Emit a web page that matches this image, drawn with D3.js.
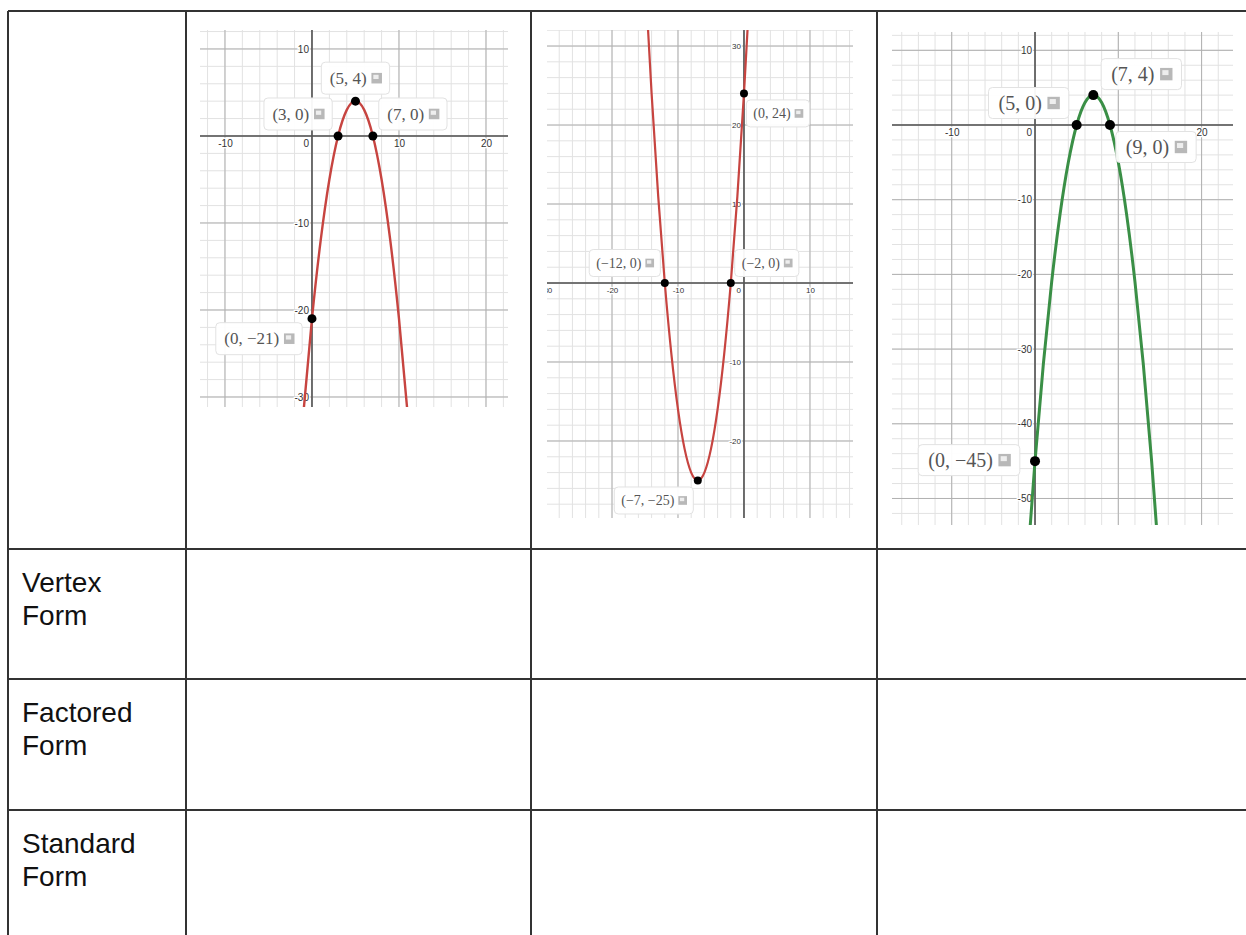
<!DOCTYPE html>
<html>
<head>
<meta charset="utf-8">
<script src="https://cdn.jsdelivr.net/npm/d3@7"></script>
<style>
  body { margin: 0; background: #fff; }
  svg { display: block; }
</style>
</head>
<body>
<div id="chart"></div>
<script>
// --------------------------------------------------
// data read off the worksheet

// table row headers (first row holds the graphs)
var rowLabels = [[], ["Vertex", "Form"], ["Factored", "Form"], ["Standard", "Form"]];

// graph 1 (red, opens down)
var curve1X = [-3, -2, -1, 0, 1, 2, 3, 4, 5, 6, 7, 8, 9, 10, 11, 12, 13];
var curve1Y = [-60, -45, -32, -21, -12, -5, 0, 3, 4, 3, 0, -5, -12, -21, -32, -45, -60];
var points1X = [5, 3, 7, 0];
var points1Y = [4, 0, 0, -21];
var labels1 = ["(5, 4)", "(3, 0)", "(7, 0)", "(0, \u221221)"];
var xTicks1 = [-10, 10, 20];
var yTicks1 = [10, -10, -20, -30];

// graph 2 (red, opens up)
var curve2X = [-16, -15, -14, -13, -12, -11, -10, -9, -8, -7, -6, -5, -4, -3, -2, -1, 0, 1, 2];
var curve2Y = [56, 39, 24, 11, 0, -9, -16, -21, -24, -25, -24, -21, -16, -9, 0, 11, 24, 39, 56];
var points2X = [0, -2, -12, -7];
var points2Y = [24, 0, 0, -25];
var labels2 = ["(0, 24)", "(\u22122, 0)", "(\u221212, 0)", "(\u22127, \u221225)"];
var xTicks2 = [-30, -20, -10, 10];
var yTicks2 = [30, 20, 10, -10, -20, -30];

// graph 3 (green, opens down)
var curve3X = [-2, -1, 0, 1, 2, 3, 4, 5, 6, 7, 8, 9, 10, 11, 12, 13, 14, 15, 16];
var curve3Y = [-77, -60, -45, -32, -21, -12, -5, 0, 3, 4, 3, 0, -5, -12, -21, -32, -45, -60, -77];
var points3X = [7, 5, 9, 0];
var points3Y = [4, 0, 0, -45];
var labels3 = ["(7, 4)", "(5, 0)", "(9, 0)", "(0, \u221245)"];
var xTicks3 = [-10, 20];
var yTicks3 = [10, -10, -20, -30, -40, -50];

// --------------------------------------------------
// layout

var W = 1246, H = 935;
var colX = [8, 186, 531, 877, 1250];
var rowY = [11, 549, 679, 810, 940];

var panels = [
    { left: 200, right: 508, top: 30, bottom: 407,
      xDomain: [-12.87, 22.53], yDomain: [-31.15, 12.18],
      color: "#c74440", width: 2.4, r: 4.5, tickSize: 10, labelSize: 17, boxH: 32,
      offsets: [[0, -23], [-40, -22], [40, -22], [-53, 20]],
      cx: curve1X, cy: curve1Y, px: points1X, py: points1Y, labels: labels1,
      xt: xTicks1, yt: yTicks1 },
    { left: 547, right: 853, top: 30, bottom: 518,
      xDomain: [-29.85, 16.52], yDomain: [-29.75, 32.03],
      color: "#c74440", width: 2.2, r: 4, tickSize: 8, labelSize: 14, boxH: 27,
      offsets: [[34, 20], [36, -20], [-40, -20], [-44, 20]],
      cx: curve2X, cy: curve2Y, px: points2X, py: points2Y, labels: labels2,
      xt: xTicks2, yt: yTicks2 },
    { left: 892, right: 1233, top: 32, bottom: 525,
      xDomain: [-17.17, 23.77], yDomain: [-53.55, 12.45],
      color: "#3a8f46", width: 3, r: 5, tickSize: 10, labelSize: 20, boxH: 31,
      offsets: [[48, -21], [-48, -22], [46, 22], [-66, -1]],
      cx: curve3X, cy: curve3Y, px: points3X, py: points3Y, labels: labels3,
      xt: xTicks3, yt: yTicks3 }
];

var svg = d3.select("#chart")
    .append("svg")
    .attr("width", W)
    .attr("height", H);

svg.append("rect")
    .attr("width", W)
    .attr("height", H)
    .attr("fill", "#fff");

var defs = svg.append("defs");

// --------------------------------------------------
// graphs

panels.forEach(function(p, i) {
    var x = d3.scaleLinear().domain(p.xDomain).range([p.left, p.right]);
    var y = d3.scaleLinear().domain(p.yDomain).range([p.bottom, p.top]);

    defs.append("clipPath")
        .attr("id", "clip" + i)
        .append("rect")
        .attr("x", p.left)
        .attr("y", p.top)
        .attr("width", p.right - p.left)
        .attr("height", p.bottom - p.top);

    var g = svg.append("g");
    var plot = g.append("g").attr("clip-path", "url(#clip" + i + ")");

    // minor and major grid
    var minorX = d3.range(Math.ceil(p.xDomain[0] / 2) * 2, p.xDomain[1], 2);
    var minorY = d3.range(Math.ceil(p.yDomain[0] / 2) * 2, p.yDomain[1], 2);
    var majorX = minorX.filter(function(d) { return d % 10 === 0; });
    var majorY = minorY.filter(function(d) { return d % 10 === 0; });

    plot.selectAll(".minx").data(minorX).enter().append("line")
        .attr("x1", x).attr("x2", x).attr("y1", p.top).attr("y2", p.bottom)
        .attr("stroke", "#e2e2e2").attr("stroke-width", 1);
    plot.selectAll(".miny").data(minorY).enter().append("line")
        .attr("y1", y).attr("y2", y).attr("x1", p.left).attr("x2", p.right)
        .attr("stroke", "#e2e2e2").attr("stroke-width", 1);
    plot.selectAll(".majx").data(majorX).enter().append("line")
        .attr("x1", x).attr("x2", x).attr("y1", p.top).attr("y2", p.bottom)
        .attr("stroke", "#b0b0b0").attr("stroke-width", 1);
    plot.selectAll(".majy").data(majorY).enter().append("line")
        .attr("y1", y).attr("y2", y).attr("x1", p.left).attr("x2", p.right)
        .attr("stroke", "#b0b0b0").attr("stroke-width", 1);

    // axis lines
    plot.append("line")
        .attr("x1", p.left).attr("x2", p.right)
        .attr("y1", y(0)).attr("y2", y(0))
        .attr("stroke", "#555").attr("stroke-width", 1.6);
    plot.append("line")
        .attr("x1", x(0)).attr("x2", x(0))
        .attr("y1", p.top).attr("y2", p.bottom)
        .attr("stroke", "#555").attr("stroke-width", 1.6);

    // tick labels
    var xAxisCall = d3.axisBottom(x)
        .tickValues(p.xt)
        .tickSize(0)
        .tickPadding(4)
        .tickFormat(function(d) { return d; });
    var xa = plot.append("g")
        .attr("transform", "translate(0, " + y(0) + ")")
        .call(xAxisCall);

    var yAxisCall = d3.axisLeft(y)
        .tickValues(p.yt)
        .tickSize(0)
        .tickPadding(3)
        .tickFormat(function(d) { return d; });
    var ya = plot.append("g")
        .attr("transform", "translate(" + x(0) + ", 0)")
        .call(yAxisCall);

    [xa, ya].forEach(function(a) {
        a.select(".domain").remove();
        a.selectAll("text")
            .attr("font-family", "Liberation Sans, Arial, sans-serif")
            .attr("font-size", p.tickSize + "px")
            .attr("fill", "#333")
            .attr("stroke", "#fff")
            .attr("stroke-width", 2.5)
            .attr("paint-order", "stroke");
    });

    plot.append("text")
        .attr("x", x(0) - 3)
        .attr("y", y(0) + 4)
        .attr("dy", "0.71em")
        .attr("text-anchor", "end")
        .attr("font-family", "Liberation Sans, Arial, sans-serif")
        .attr("font-size", p.tickSize + "px")
        .attr("fill", "#333")
        .attr("stroke", "#fff")
        .attr("stroke-width", 2.5)
        .attr("paint-order", "stroke")
        .text("0");

    // parabola
    var pts = p.cx.map(function(d, k) { return [d, p.cy[k]]; });
    var line = d3.line()
        .x(function(d) { return x(d[0]); })
        .y(function(d) { return y(d[1]); })
        .curve(d3.curveNatural);
    plot.append("path")
        .attr("d", line(pts))
        .attr("fill", "none")
        .attr("stroke", p.color)
        .attr("stroke-width", p.width);

    // labelled points
    p.px.forEach(function(d, k) {
        var cxp = x(d), cyp = y(p.py[k]);
        g.append("circle")
            .attr("cx", cxp)
            .attr("cy", cyp)
            .attr("r", p.r)
            .attr("fill", "#000");

        var fs = p.labelSize;
        var lg = g.append("g")
            .attr("transform", "translate(" + (cxp + p.offsets[k][0]) + ", " +
                (cyp + p.offsets[k][1]) + ")");
        var box = lg.append("rect");
        var t = lg.append("text")
            .attr("font-family", "Liberation Serif, DejaVu Serif, serif")
            .attr("font-size", fs + "px")
            .attr("fill", "#555")
            .attr("dy", "0.33em")
            .text(p.labels[k]);
        var tw = t.node().getComputedTextLength();
        var padL = fs * 0.5, gap = fs * 0.28, iconW = fs * 0.62, padR = fs * 0.45;
        var w = padL + tw + gap + iconW + padR;
        t.attr("x", -w / 2 + padL);
        box.attr("x", -w / 2)
            .attr("y", -p.boxH / 2)
            .attr("width", w)
            .attr("height", p.boxH)
            .attr("rx", 4)
            .attr("fill", "#fff")
            .attr("fill-opacity", 0.95)
            .attr("stroke", "#e2e2e2")
            .attr("stroke-width", 1);
        var ix = -w / 2 + padL + tw + gap;
        lg.append("rect")
            .attr("x", ix)
            .attr("y", -iconW * 0.5)
            .attr("width", iconW)
            .attr("height", iconW)
            .attr("fill", "#b8b8b8");
        lg.append("rect")
            .attr("x", ix + iconW * 0.18)
            .attr("y", -iconW * 0.32)
            .attr("width", iconW * 0.5)
            .attr("height", iconW * 0.4)
            .attr("fill", "#eee");
    });
});

// --------------------------------------------------
// table grid and row headers

colX.slice(0, 4).forEach(function(cx) {
    svg.append("line")
        .attr("x1", cx).attr("x2", cx)
        .attr("y1", rowY[0]).attr("y2", H + 5)
        .attr("stroke", "#333").attr("stroke-width", 2);
});
rowY.slice(0, 4).forEach(function(ry) {
    svg.append("line")
        .attr("x1", colX[0]).attr("x2", W + 5)
        .attr("y1", ry).attr("y2", ry)
        .attr("stroke", "#333").attr("stroke-width", 2);
});

rowLabels.forEach(function(lines, i) {
    lines.forEach(function(s, j) {
        svg.append("text")
            .attr("x", 22)
            .attr("y", rowY[i] + 43 + j * 33)
            .attr("font-family", "Liberation Sans, Arial, sans-serif")
            .attr("font-size", "28px")
            .attr("fill", "#111")
            .text(s);
    });
});
</script>
</body>
</html>
